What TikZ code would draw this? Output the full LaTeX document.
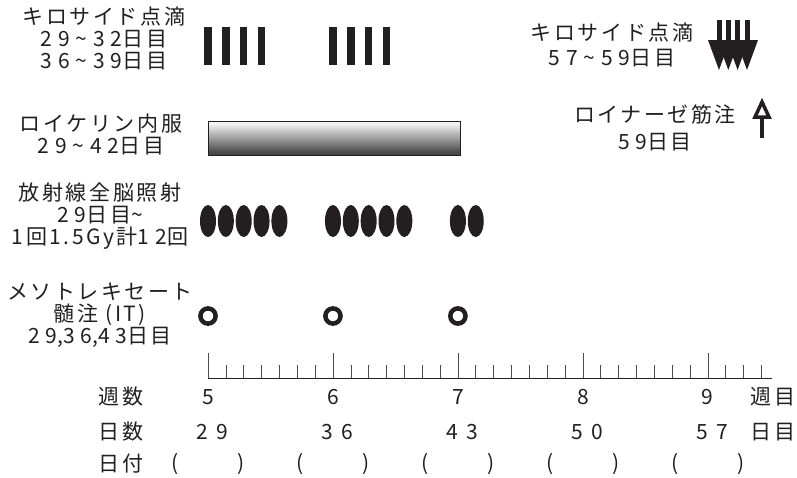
\documentclass[tikz,border=0pt]{standalone}
\usepackage{fontspec}
\setmainfont{Noto Sans CJK JP}[LetterSpace=12]
\newfontfamily\dgA{Noto Sans CJK JP}[LetterSpace=28]
\newfontfamily\dgB{Noto Sans CJK JP}[LetterSpace=42]
\definecolor{ink}{HTML}{231F20}
\pgfdeclareverticalshading{barshade}{100bp}{color(0bp)=(ink); color(30bp)=(black!70); color(72bp)=(white!96!black); color(92bp)=(black!25); color(100bp)=(black!50)}
\tikzset{
  lbl/.style={inner sep=0pt, align=center, text=ink, font=\fontsize{21}{22}\selectfont},
  stick/.style={fill=ink, draw=none},
  dose/.style={fill=ink, draw=none},
  ring/.style={draw=ink, line width=4.5pt, fill=none},
  axisline/.style={draw=ink, line width=0.8pt},
  tickline/.style={draw=black!70, line width=0.6pt}
}
\begin{document}
\begin{tikzpicture}[x=1pt,y=-1pt]
\useasboundingbox (0,0) rectangle (797,477);
% ---- left labels ----
\node[lbl] (kiloL) at (104,38) {キロサイド点滴\\{\dgA 29\textasciitilde32}日目\\{\dgA 36\textasciitilde39}日目};
\node[lbl, font=\fontsize{21}{25}\selectfont] (kiloR) at (612,44.5) {キロサイド点滴\\{\dgA 57\textasciitilde59}日目};
\node[lbl, font=\fontsize{21}{27}\selectfont] (loin) at (655,127.5) {ロイナーゼ筋注\\{\dgA 59}日目};
\node[lbl] (leuk) at (101,134) {ロイケリン内服\\{\dgA 29\textasciitilde42}日目};
\node[lbl] (rad) at (100,216) {放射線全脳照射\\{\dgA 29}日目{\dgA\textasciitilde}\\1回1.5Gy計{\dgA 12}回};
\node[lbl] (mtx) at (100,315.5) {メソトレキセート\\髄注 (IT)\\{\dgA 29},{\dgA 36},{\dgA 43}日目};
% ---- Kiloside bars ----
\foreach \d in {29,30,31,32,36,37,38,39} {
  \pgfmathsetmacro\xx{208+(\d-29)*17.85}
  \fill[stick] (\xx-3.75,27) rectangle (\xx+3.75,65);
}
% ---- Kiloside arrows (day 57-59) ----
\foreach \xx in {719,728.3,737.6,747} {
  \fill[stick] (\xx-2.5,20) rectangle (\xx+2.5,44);
  \fill[stick] (\xx-11,40) -- (\xx+11,40) -- (\xx,70) -- cycle;
}
% ---- Leunase arrow ----
\draw[ink, line width=4.5pt] (762,116) -- (762,138);
\draw[ink, line width=3.5pt, line join=miter, fill=white] (755,117) -- (762,102) -- (769,117) -- cycle;
% ---- Leukerin bar ----
\shade[shading=barshade] (208,121) rectangle (460,155);
\draw[ink, line width=0.6pt] (208,121) rectangle (460,155);
% ---- radiation ----
\foreach \d in {29,30,31,32,33,36,37,38,39,40,43,44} {
  \pgfmathsetmacro\xx{208+(\d-29)*17.85}
  \fill[dose] (\xx,221) ellipse [x radius=8, y radius=16];
}
% ---- MTX IT ----
\foreach \d in {29,36,43} {
  \pgfmathsetmacro\xx{208+(\d-29)*17.85}
  \draw[ring] (\xx,316) circle [radius=7.6];
}
% ---- axis ----
\draw[axisline] (208,378) -- (772,378);
\foreach \d in {29,...,60} {
  \pgfmathsetmacro\xx{208+(\d-29)*17.85}
  \pgfmathsetmacro\tt{mod(\d-29,7)==0 ? 353 : 365}
  \draw[tickline] (\xx,378) -- (\xx,\tt);
}
% ---- bottom labels ----
\node[lbl] (wkH) at (121,397) {週数};
\node[lbl] (dyH) at (121,432) {日数};
\node[lbl] (dtH) at (121,464) {日付};
\node[lbl] (wkU) at (773,397) {週目};
\node[lbl] (dyU) at (773,432) {日目};
\foreach \w/\dd [count=\i from 0] in {5/29,6/36,7/43,8/50,9/57} {
  \pgfmathsetmacro\xx{208+\i*7*17.85}
  \node[lbl] (wk\w) at (\xx,397) {\w};
  \node[lbl] (dy\w) at (\xx,432) {\dgB\dd\hspace*{-8.8pt}};
  \node[lbl] (dtL\w) at (\xx-33,464) {(};
  \node[lbl] (dtR\w) at (\xx+33,464) {)};
}
\end{tikzpicture}
\end{document}
